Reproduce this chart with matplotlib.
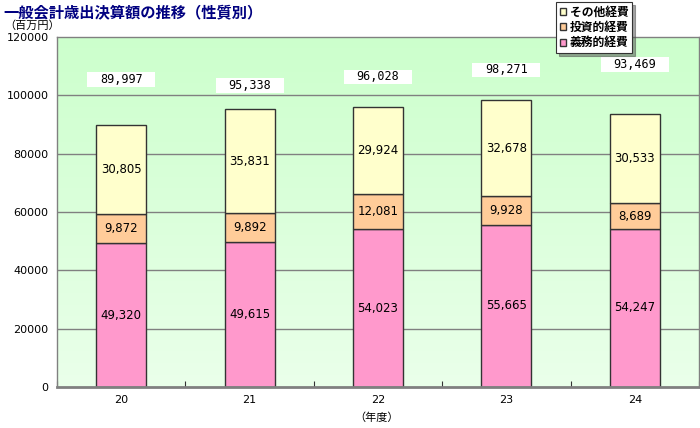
import matplotlib
matplotlib.use("Agg")
import matplotlib.pyplot as plt
import numpy as np
from matplotlib.patches import Patch, Rectangle

plt.rcParams['font.family'] = ['Noto Sans CJK JP', 'DejaVu Sans']

years = ["20", "21", "22", "23", "24"]
gimu = [49320, 49615, 54023, 55665, 54247]      # 義務的経費
toshi = [9872, 9892, 12081, 9928, 8689]         # 投資的経費
sonota = [30805, 35831, 29924, 32678, 30533]    # その他経費
totals = [89997, 95338, 96028, 98271, 93469]
series_names = ["義務的経費", "投資的経費", "その他経費"]
yticks = [0, 20000, 40000, 60000, 80000, 100000, 120000]

# layout: vertical positions of total label boxes (data units)
total_label_y = [105400, 103400, 106300, 108700, 110500]

colors = ["#FF99CC", "#FFCC99", "#FFFFCC"]

fig = plt.figure(figsize=(7.0, 4.28), dpi=100)
ax = fig.add_axes([57/700, 1-387/428, (699-57)/700, (387-37)/428])

x = np.arange(len(years))
ax.set_xlim(-0.5, len(years)-0.5)
ax.set_ylim(0, 120000)

# gradient background
grad = np.linspace(0, 1, 256).reshape(-1, 1)
top = np.array([204, 255, 204]) / 255
bot = np.array([234, 255, 234]) / 255
img = top[None, None, :] * (1 - grad[:, :, None]) + bot[None, None, :] * grad[:, :, None]
ax.imshow(img, extent=[0, 1, 0, 1], transform=ax.transAxes, aspect='auto', zorder=0)

for yv in yticks[1:-1]:
    ax.axhline(yv, color="#808080", lw=1.0, zorder=1)

width = 0.39
bottoms = np.zeros(len(years))
for vals, col in zip([gimu, toshi, sonota], colors):
    vals = np.array(vals)
    ax.bar(x, vals, width, bottom=bottoms, color=col, edgecolor="#333333", lw=1.0, zorder=2)
    for xi, b, v in zip(x, bottoms, vals):
        ax.text(xi, b + v/2, f"{v:,}", ha='center', va='center', fontsize=8.5,
                color='black', zorder=3, family=['DejaVu Sans'])
    bottoms = bottoms + vals

box_w = 0.53
box_h = 5000
for xi, t, ly in zip(x, totals, total_label_y):
    ax.add_patch(Rectangle((xi - box_w/2, ly - box_h/2), box_w, box_h,
                           facecolor='white', edgecolor='none', zorder=4))
    ax.text(xi, ly, f"{t:,}", ha='center', va='center', fontsize=8.5, zorder=5,
            family=['DejaVu Sans Mono'])

ax.set_yticks(yticks)
ax.set_yticklabels([str(v) for v in yticks], fontsize=8, family=['DejaVu Sans'])
ax.set_xticks(np.arange(-0.5, len(years)+0.5, 1))
ax.set_xticklabels([])
ax.set_xticks(x, minor=True)
ax.set_xticklabels(years, minor=True, fontsize=8, family=['DejaVu Sans'])
ax.tick_params(axis='x', which='major', direction='in', length=4, color='#333333')
ax.tick_params(axis='x', which='minor', length=0, pad=6)
ax.tick_params(axis='y', length=0, pad=6)

for s in ['top', 'right', 'left']:
    ax.spines[s].set_color('#808080')
    ax.spines[s].set_linewidth(1.0)
ax.spines['bottom'].set_color('#808080')
ax.spines['bottom'].set_linewidth(2.0)

fig.text(3/700, 1-12/428, "一般会計歳出決算額の推移（性質別）", fontsize=11, fontweight='bold',
         color='#000080', ha='left', va='center')
fig.text(4/700, 1-26/428, "（百万円）", fontsize=8, ha='left', va='center')
fig.text(377/700, 1-418/428, "（年度）", fontsize=8, ha='center', va='center')

handles = [Patch(facecolor=colors[i], edgecolor='#333333', label=series_names[i]) for i in [2, 1, 0]]
leg = fig.legend(handles=handles, loc='upper left', bbox_to_anchor=(556/700, 1-2/428),
                 fontsize=8.5, frameon=True, fancybox=False, shadow=True,
                 handlelength=0.55, handleheight=0.55, handletextpad=0.3,
                 borderpad=0.3, labelspacing=0.2, borderaxespad=0)
leg.get_frame().set_edgecolor('#333333')
leg.get_frame().set_linewidth(0.8)
for t in leg.get_texts():
    t.set_fontweight('bold')

fig.savefig("out.png", dpi=100)
